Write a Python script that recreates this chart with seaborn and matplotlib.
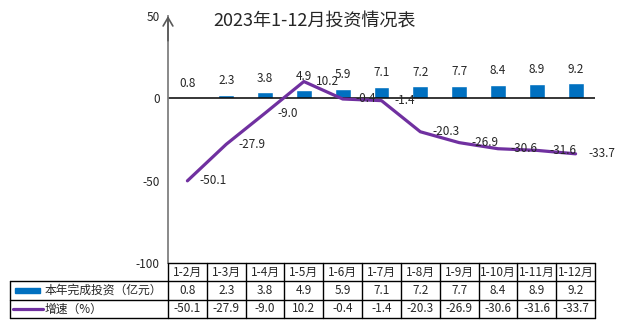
import numpy as np
import pandas as pd
import matplotlib
matplotlib.use("Agg")
import matplotlib.pyplot as plt
import seaborn as sns
from matplotlib.patches import Rectangle

# ---- data ----
months = ["1-2月", "1-3月", "1-4月", "1-5月", "1-6月", "1-7月", "1-8月",
          "1-9月", "1-10月", "1-11月", "1-12月"]
invest = [0.8, 2.3, 3.8, 4.9, 5.9, 7.1, 7.2, 7.7, 8.4, 8.9, 9.2]
growth = [-50.1, -27.9, -9.0, 10.2, -0.4, -1.4, -20.3, -26.9, -30.6, -31.6, -33.7]
title = "2023年1-12月投资情况表"
bar_name = "本年完成投资（亿元）"
line_name = "增速（%）"
y_ticks = [-100, -50, 0, 50]

sns.set_style("white")
plt.rcParams["font.family"] = ["Noto Sans CJK SC", "DejaVu Sans"]
plt.rcParams["axes.unicode_minus"] = False

BLUE = "#0070C0"
PURPLE = "#7030A0"

df = pd.DataFrame({"月份": months, "投资": invest, "增速": growth})

W, H = 630, 322
fig = plt.figure(figsize=(W / 100, H / 100), dpi=100)

# main plot area (pixel based layout)
L, R, T, B = 168, 595, 16, 263
ax = fig.add_axes([L / W, 1 - B / H, (R - L) / W, (B - T) / H])

sns.barplot(data=df, x="月份", y="投资", color=BLUE, width=0.41,
            saturation=1, errorbar=None, ax=ax)
sns.lineplot(data=df, x="月份", y="增速", color=PURPLE, lw=2.3,
             sort=False, ax=ax)

n = len(months)
ax.set_xlim(-0.5, n - 0.5)
ax.set_ylim(-100, 50)
ax.set_yticks(y_ticks)
ax.set_yticklabels([str(t) for t in y_ticks])
ax.set_xticks([])
ax.set_xlabel("")
ax.set_ylabel("")
for s in ["top", "right", "bottom"]:
    ax.spines[s].set_visible(False)
ax.spines["left"].set_color("#808080")
ax.spines["left"].set_linewidth(1.3)
ax.tick_params(axis="y", direction="out", length=5, width=1, color="#808080",
               labelsize=8.5, pad=1)
ax.axhline(0, color="black", lw=1.1, zorder=1)
ax.annotate("", xy=(0, 1), xycoords="axes fraction", xytext=(0, 0.9),
            arrowprops=dict(arrowstyle="->,head_length=0.6,head_width=0.35",
                            color="#595959", lw=1.2, shrinkA=0, shrinkB=0))

# data labels
for i, v in enumerate(invest):
    ax.annotate(f"{v}", (i, v), xytext=(0, 10), textcoords="offset points",
                ha="center", va="center", fontsize=8.5)
for i, v in enumerate(growth):
    ax.annotate(f"{v}", (i, v), xytext=(9, 0), textcoords="offset points",
                ha="left", va="center", fontsize=8.5)

fig.text(315 / W, 1 - 22 / H, title, ha="center", va="center", fontsize=13)

# ---- data table ----
TL, TT, TB = 10, 263, 318
tax = fig.add_axes([TL / W, 1 - TB / H, (R - TL) / W, (TB - TT) / H])
cw = (R - L) / n
x_left = (n - 0.5) - (R - TL) / cw
tax.set_xlim(x_left, n - 0.5)
tax.set_ylim(3, 0)
tax.axis("off")


def px(p):
    return x_left + (p - TL) / cw


lk = dict(color="black", lw=1, clip_on=False)
tax.plot([-0.5, n - 0.5], [0, 0], **lk)
for yy in [1, 2, 3]:
    tax.plot([x_left, n - 0.5], [yy, yy], **lk)
tax.plot([x_left, x_left], [1, 3], **lk)
for k in range(n + 1):
    tax.plot([k - 0.5, k - 0.5], [0, 3], **lk)

for i in range(n):
    tax.text(i, 0.5, months[i], ha="center", va="center", fontsize=8.5)
    tax.text(i, 1.5, f"{invest[i]}", ha="center", va="center", fontsize=8.5)
    tax.text(i, 2.5, f"{growth[i]}", ha="center", va="center", fontsize=8.5)

tax.add_patch(Rectangle((px(15), 1.35), px(40) - px(15), 0.3, color=BLUE,
                        clip_on=False))
tax.plot([px(13), px(43)], [2.5, 2.5], color=PURPLE, lw=2.3, clip_on=False)
tax.text(px(45), 1.5, bar_name, ha="left", va="center", fontsize=8.5)
tax.text(px(45), 2.5, line_name, ha="left", va="center", fontsize=8.5)

fig.savefig("out.png", dpi=100)
